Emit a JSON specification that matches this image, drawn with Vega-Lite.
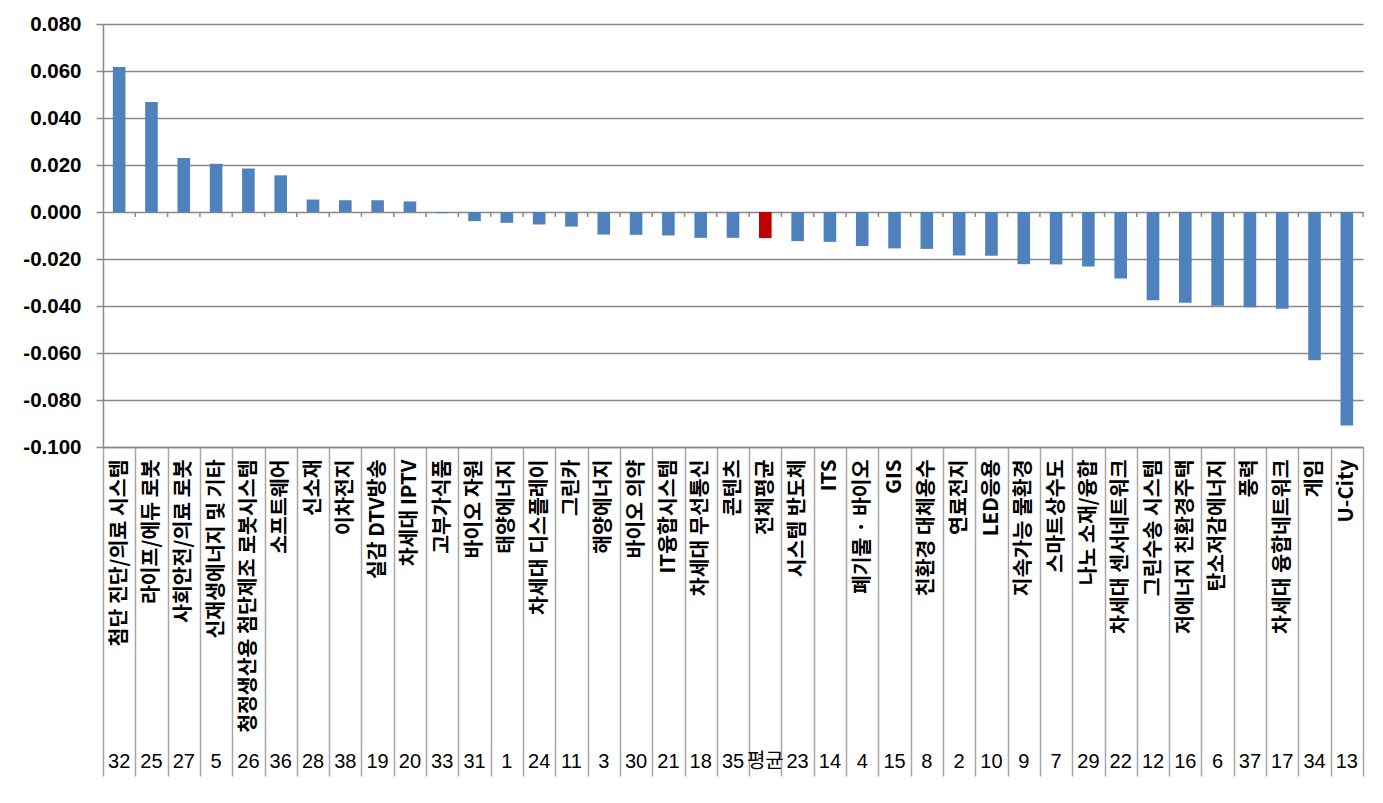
{
  "$schema": "https://vega.github.io/schema/vega-lite/v6.json",
  "autosize": "none",
  "width": 1260,
  "height": 423,
  "padding": {"left": 103, "top": 24, "right": 20, "bottom": 356},
  "background": "white",
  "config": {"view": {"stroke": null}},
  "data": {"values": [
    {"name": "첨단 진단/의료 시스템", "num": "32", "value": 0.0617},
    {"name": "라이프/에듀 로봇", "num": "25", "value": 0.0468},
    {"name": "사회안전/의료 로봇", "num": "27", "value": 0.0230},
    {"name": "신재생에너지 및 기타", "num": "5", "value": 0.0205},
    {"name": "청정생산용 첨단제조 로봇시스템", "num": "26", "value": 0.0185},
    {"name": "소프트웨어", "num": "36", "value": 0.0156},
    {"name": "신소재", "num": "28", "value": 0.0053},
    {"name": "이차전지", "num": "38", "value": 0.0050},
    {"name": "실감 DTV방송", "num": "19", "value": 0.0050},
    {"name": "차세대 IPTV", "num": "20", "value": 0.0045},
    {"name": "고부가식품", "num": "33", "value": -0.0005},
    {"name": "바이오 자원", "num": "31", "value": -0.0039},
    {"name": "태양에너지", "num": "1", "value": -0.0046},
    {"name": "차세대 디스플레이", "num": "24", "value": -0.0053},
    {"name": "그린카", "num": "11", "value": -0.0062},
    {"name": "해양에너지", "num": "3", "value": -0.0096},
    {"name": "바이오 의약", "num": "30", "value": -0.0097},
    {"name": "IT융합시스템", "num": "21", "value": -0.0100},
    {"name": "차세대 무선통신", "num": "18", "value": -0.0110},
    {"name": "콘텐츠", "num": "35", "value": -0.0110},
    {"name": "전체평균", "num": "평균", "value": -0.0111},
    {"name": "시스템 반도체", "num": "23", "value": -0.0124},
    {"name": "ITS", "num": "14", "value": -0.0127},
    {"name": "폐기물 · 바이오", "num": "4", "value": -0.0145},
    {"name": "GIS", "num": "15", "value": -0.0155},
    {"name": "친환경 대체용수", "num": "8", "value": -0.0157},
    {"name": "연료전지", "num": "2", "value": -0.0185},
    {"name": "LED응용", "num": "10", "value": -0.0186},
    {"name": "지속가능 물환경", "num": "9", "value": -0.0222},
    {"name": "스마트상수도", "num": "7", "value": -0.0223},
    {"name": "나노 소재/융합", "num": "29", "value": -0.0232},
    {"name": "차세대 센서네트워크", "num": "22", "value": -0.0283},
    {"name": "그린수송 시스템", "num": "12", "value": -0.0375},
    {"name": "저에너지 친환경주택", "num": "16", "value": -0.0386},
    {"name": "탄소저감에너지", "num": "6", "value": -0.0399},
    {"name": "풍력", "num": "37", "value": -0.0405},
    {"name": "차세대 융합네트워크", "num": "17", "value": -0.0412},
    {"name": "게임", "num": "34", "value": -0.0631},
    {"name": "U-City", "num": "13", "value": -0.0908}
  ]},
  "resolve": {"axis": {"x": "independent"}},
  "layer": [
    {
      "mark": {"type": "bar", "width": {"band": 0.39}},
      "encoding": {
        "x": {
          "field": "name", "type": "nominal", "sort": null,
          "scale": {"paddingInner": 0, "paddingOuter": 0},
          "axis": {
            "orient": "bottom", "title": null, "grid": false,
            "labelAngle": -90, "labelFont": "Noto Sans CJK KR", "labelFontWeight": "bold",
            "labelFontSize": 20.5, "labelColor": "#000000", "labelLimit": 400, "labelOverlap": false,
            "tickBand": "extent", "tickSize": 329, "tickColor": "#a6a6a6", "tickWidth": 1.5,
            "labelPadding": -317, "domainColor": "#898989", "domainWidth": 1.5
          }
        },
        "y": {
          "field": "value", "type": "quantitative",
          "scale": {"domain": [-0.1, 0.08], "nice": false, "zero": false},
          "axis": {
            "title": null,
            "values": [-0.1, -0.08, -0.06, -0.04, -0.02, 0, 0.02, 0.04, 0.06, 0.08],
            "format": ".3f",
            "labelExpr": "replace(datum.label, '\u2212', '-')",
            "labelFont": "Liberation Sans", "labelFontWeight": "bold", "labelFontSize": 20.5,
            "labelColor": "#000000", "labelPadding": 15,
            "tickSize": 7, "tickColor": "#898989", "tickWidth": 1.5,
            "domainColor": "#898989", "domainWidth": 1.5,
            "grid": true, "gridColor": "#898989", "gridWidth": 1.5
          }
        },
        "color": {
          "condition": {"test": "datum.name === '전체평균'", "value": "#C00000"},
          "value": "#4F81BD"
        }
      }
    },
    {
      "mark": {"type": "rule", "color": "#898989", "strokeWidth": 1.5},
      "encoding": {
        "x": {
          "field": "name", "type": "nominal", "sort": null, "bandPosition": 1,
          "axis": {
            "orient": "bottom", "title": null, "grid": false, "ticks": false, "tickSize": 0,
            "domain": false, "offset": 314, "labelPadding": 0, "labelAngle": 0,
            "labelBaseline": "middle", "labelAlign": "center",
            "labelFont": "Liberation Sans, Noto Sans CJK KR", "labelFontSize": 20,
            "labelColor": "#000000", "labelOverlap": false, "labelLimit": 0,
            "labelExpr": "({'첨단 진단/의료 시스템':'32','라이프/에듀 로봇':'25','사회안전/의료 로봇':'27','신재생에너지 및 기타':'5','청정생산용 첨단제조 로봇시스템':'26','소프트웨어':'36','신소재':'28','이차전지':'38','실감 DTV방송':'19','차세대 IPTV':'20','고부가식품':'33','바이오 자원':'31','태양에너지':'1','차세대 디스플레이':'24','그린카':'11','해양에너지':'3','바이오 의약':'30','IT융합시스템':'21','차세대 무선통신':'18','콘텐츠':'35','전체평균':'평균','시스템 반도체':'23','ITS':'14','폐기물 · 바이오':'4','GIS':'15','친환경 대체용수':'8','연료전지':'2','LED응용':'10','지속가능 물환경':'9','스마트상수도':'7','나노 소재/융합':'29','차세대 센서네트워크':'22','그린수송 시스템':'12','저에너지 친환경주택':'16','탄소저감에너지':'6','풍력':'37','차세대 융합네트워크':'17','게임':'34','U-City':'13'})[datum.value]"
          }
        },
        "y": {"datum": 0, "type": "quantitative"},
        "y2": {"datum": -0.0021}
      }
    }
  ]
}
